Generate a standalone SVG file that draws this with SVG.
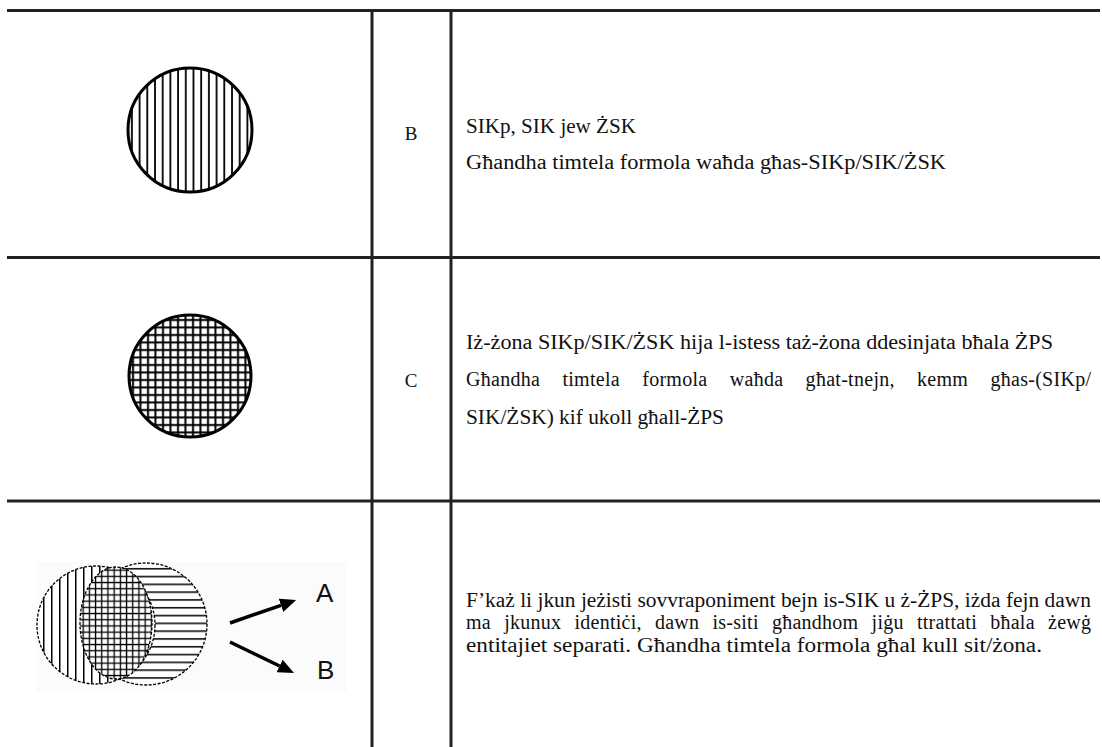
<svg xmlns="http://www.w3.org/2000/svg" width="1102" height="747" viewBox="0 0 1102 747">
<style>
.rule{stroke:#222;stroke-width:3;fill:none}
.t{font-family:"Liberation Serif","Times New Roman",serif;font-size:20px;fill:#111}
.lab{font-family:"Liberation Serif","Times New Roman",serif;font-size:19px;fill:#111;text-anchor:middle}
.sans{font-family:"Liberation Sans",Arial,sans-serif;font-size:26px;fill:#111}
.ring{stroke:#000;stroke-width:3}
.dash{stroke:#000;stroke-width:1.3;stroke-dasharray:3 1.5}
.arrow{stroke:#000;stroke-width:3.5;fill:none}
</style>
<defs>
<pattern id="vh" patternUnits="userSpaceOnUse" x="128" y="0" width="7.7" height="8">
<rect width="7.7" height="8" fill="#fff"/><rect x="3" width="1.8" height="8" fill="#000"/>
</pattern>
<pattern id="grid" patternUnits="userSpaceOnUse" x="129" y="316" width="7.5" height="7.5">
<rect width="7.5" height="7.5" fill="#fff"/><rect x="3" width="2" height="7.5" fill="#000"/><rect y="3" width="7.5" height="2" fill="#000"/>
</pattern>
<pattern id="svh" patternUnits="userSpaceOnUse" x="40" y="0" width="8" height="8">
<rect width="8" height="8" fill="#fff"/><rect x="3" width="1.5" height="8" fill="#000"/>
</pattern>
<pattern id="shh" patternUnits="userSpaceOnUse" x="0" y="565" width="8" height="7.8">
<rect width="8" height="7.8" fill="#fff"/><rect y="3" width="8" height="1.5" fill="#000"/>
</pattern>
<pattern id="sgrid" patternUnits="userSpaceOnUse" x="80" y="567" width="6.2" height="6.2">
<rect width="6.2" height="6.2" fill="#fff"/><rect x="2.5" width="1.3" height="6.2" fill="#000"/><rect y="2.5" width="6.2" height="1.3" fill="#000"/>
</pattern>
<marker id="ah" markerUnits="userSpaceOnUse" viewBox="0 0 16 14" refX="0" refY="7" markerWidth="16" markerHeight="14" orient="auto">
<path d="M0,0 L16,7 L0,14 z" fill="#000"/>
</marker>
</defs>
<rect width="1102" height="747" fill="#fff"/>

<g id="table-rules">
<line class="rule" x1="7" y1="10.5" x2="1100" y2="10.5"/>
<line class="rule" x1="7" y1="257.5" x2="1100" y2="257.5"/>
<line class="rule" x1="7" y1="501" x2="1100" y2="501"/>
<line class="rule" x1="372" y1="10" x2="372" y2="747"/>
<line class="rule" x1="451" y1="10" x2="451" y2="747"/>
</g>

<g id="row-B">
<circle class="ring" cx="190" cy="130" r="62" fill="url(#vh)"/>
<text class="lab" x="411" y="140">B</text>
<text class="t" x="466" y="133" textLength="170" lengthAdjust="spacingAndGlyphs">SIKp, SIK jew ŻSK</text>
<text class="t" x="466" y="169" textLength="480" lengthAdjust="spacingAndGlyphs">Għandha timtela formola waħda għas-SIKp/SIK/ŻSK</text>
</g>

<g id="row-C">
<circle class="ring" cx="190" cy="376" r="61" fill="url(#grid)"/>
<text class="lab" x="411" y="387">C</text>
<text class="t" x="466" y="349" textLength="587" lengthAdjust="spacingAndGlyphs">Iż-żona SIKp/SIK/ŻSK hija l-istess taż-żona ddesinjata bħala ŻPS</text>
<text class="t" x="466" y="386" textLength="625" lengthAdjust="spacing" word-spacing="17">Għandha timtela formola waħda għat-tnejn, kemm għas-(SIKp/</text>
<text class="t" x="466" y="424" textLength="258" lengthAdjust="spacingAndGlyphs">SIK/ŻSK) kif ukoll għall-ŻPS</text>
</g>

<g id="row-overlap">
<rect x="36" y="562" width="311" height="130" fill="#fbfbfb"/>
<circle class="dash" cx="146" cy="624" r="61" fill="url(#shh)"/>
<circle class="dash" cx="96" cy="625" r="59" fill="url(#svh)"/>
<ellipse class="dash" cx="116" cy="623" rx="36" ry="56" fill="url(#sgrid)"/>
<g id="connectors">
<line class="arrow" x1="230" y1="623" x2="281" y2="605.3" marker-end="url(#ah)"/>
<line class="arrow" x1="230" y1="642" x2="279.6" y2="666" marker-end="url(#ah)"/>
</g>
<text class="sans" x="316" y="602">A</text>
<text class="sans" x="317" y="679">B</text>
<text class="t" x="466" y="607" textLength="625" lengthAdjust="spacingAndGlyphs">F’każ li jkun jeżisti sovvraponiment bejn is-SIK u ż-ŻPS, iżda fejn dawn</text>
<text class="t" x="466" y="629" textLength="625" lengthAdjust="spacing" word-spacing="8">ma jkunux identiċi, dawn is-siti għandhom jiġu ttrattati bħala żewġ</text>
<text class="t" x="466" y="652" textLength="576" lengthAdjust="spacingAndGlyphs">entitajiet separati. Għandha timtela formola għal kull sit/żona.</text>
</g>
</svg>
